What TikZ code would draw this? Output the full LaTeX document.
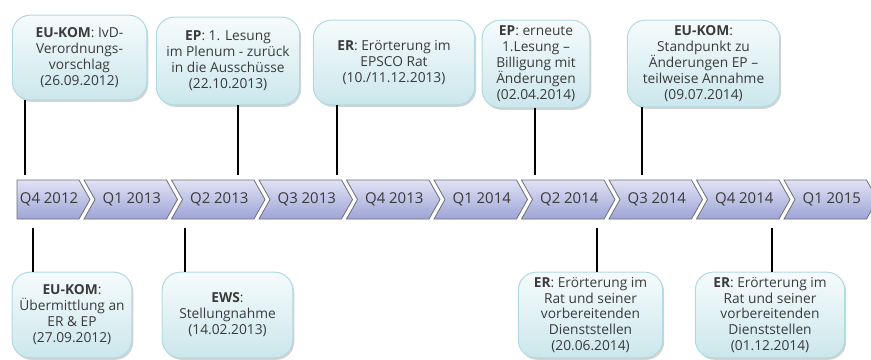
\documentclass[tikz,border=0pt]{standalone}
\usepackage{fontspec}
\setmainfont{Open Sans}
\usepackage{tikz}
\usetikzlibrary{shadows}

\definecolor{chevtop}{HTML}{E0E2F4}
\definecolor{chevbot}{HTML}{9EA4D6}
\definecolor{chevline}{HTML}{6E6E7A}
\definecolor{boxtop}{HTML}{F6FBFC}
\definecolor{boxbot}{HTML}{CBE7EC}
\definecolor{boxline}{HTML}{B0DAE2}
\definecolor{txt}{HTML}{3A3A3A}

\tikzset{
  event/.style={draw=boxline, line width=1bp, rounded corners=18bp,
    top color=boxtop, bottom color=boxbot, align=center, text=txt,
    font=\fontsize{13.8}{16}\selectfont, inner sep=2bp,
    drop shadow={shadow xshift=1.5bp, shadow yshift=-2bp, opacity=0.35}},
  stem/.style={line width=1.6bp, black},
  quarter/.style={text=txt, font=\fontsize{15}{16}\selectfont},
  chevron/.style={draw=chevline, line width=0.8bp, top color=chevtop, bottom color=chevbot},
}

\begin{document}
\begin{tikzpicture}[x=1bp, y=-1bp]
    \useasboundingbox (0,0) rectangle (871,359);

    % Timeline
    \foreach \lab [count=\i from 0] in {Q4 2012, Q1 2013, Q2 2013, Q3 2013, Q4 2013,
                                        Q1 2014, Q2 2014, Q3 2014, Q4 2014, Q1 2015} {
        \pgfmathsetmacro{\tip}{90+87.5*\i}
        \pgfmathsetmacro{\notch}{\i==0 ? 0 : 11}
        \pgfmathsetmacro{\lft}{\i==0 ? 17 : \tip-93.5}
        \draw[chevron] (\lft,180) -- (\tip-11,180) -- (\tip,199.5) -- (\tip-11,219)
            -- (\lft,219) -- (\lft+\notch,199.5) -- cycle;
        \node[quarter] (q\i) at ({(\lft+\notch+\tip-11)/2+1}, 199.5) {\lab};
    }

    % Events above
    \node[event, minimum width=135, minimum height=85] (kom1) at (79.5, 57.5)
        {\textbf{EU-KOM}: IvD-\\Verordnungs-\\vorschlag\\(26.09.2012)};
    \node[event, minimum width=144, minimum height=88] (ep1) at (228, 61)
        {\textbf{EP}: 1. Lesung\\im Plenum - zurück\\in die Ausschüsse\\(22.10.2013)};
    \node[event, minimum width=162, minimum height=85] (er1) at (394, 62.5)
        {\textbf{ER}: Erörterung im\\EPSCO Rat\\(10./11.12.2013)};
    \node[event, minimum width=108, minimum height=88] (ep2) at (536, 64)
        {\textbf{EP}: erneute\\1.Lesung --\\Billigung mit\\Änderungen\\(02.04.2014)};
    \node[event, minimum width=153, minimum height=87] (kom3) at (703.5, 63.5)
        {\textbf{EU-KOM}:\\Standpunkt zu\\Änderungen EP --\\teilweise Annahme\\(09.07.2014)};

    % Events below
    \node[event, minimum width=120, minimum height=86] (kom2) at (72, 315)
        {\textbf{EU-KOM}:\\Übermittlung an\\ER \& EP\\(27.09.2012)};
    \node[event, minimum width=131, minimum height=86] (ews) at (227.5, 315)
        {\textbf{EWS}:\\Stellungnahme\\(14.02.2013)};
    \node[event, minimum width=145, minimum height=86] (er2) at (590.5, 315)
        {\textbf{ER}: Erörterung im\\Rat und seiner\\vorbereitenden\\Dienststellen\\(20.06.2014)};
    \node[event, minimum width=150, minimum height=86] (er3) at (770, 315)
        {\textbf{ER}: Erörterung im\\Rat und seiner\\vorbereitenden\\Dienststellen\\(01.12.2014)};

    % Stems to the timeline
    \coordinate (s1) at (25,175);
    \coordinate (s2) at (238,175);
    \coordinate (s3) at (337,175);
    \coordinate (s4) at (535,175);
    \coordinate (s5) at (642,175);
    \coordinate (s6) at (33,228);
    \coordinate (s7) at (185,228);
    \coordinate (s8) at (597,228);
    \coordinate (s9) at (772,228);

    \draw[stem] (s1 |- kom1.south) -- (s1);
    \draw[stem] (s2 |- ep1.south) -- (s2);
    \draw[stem] (s3 |- er1.south) -- (s3);
    \draw[stem] (s4 |- ep2.south) -- (s4);
    \draw[stem] (s5 |- kom3.south) -- (s5);
    \draw[stem] (s6) -- (s6 |- kom2.north);
    \draw[stem] (s7) -- (s7 |- ews.north);
    \draw[stem] (s8) -- (s8 |- er2.north);
    \draw[stem] (s9) -- (s9 |- er3.north);
\end{tikzpicture}
\end{document}
